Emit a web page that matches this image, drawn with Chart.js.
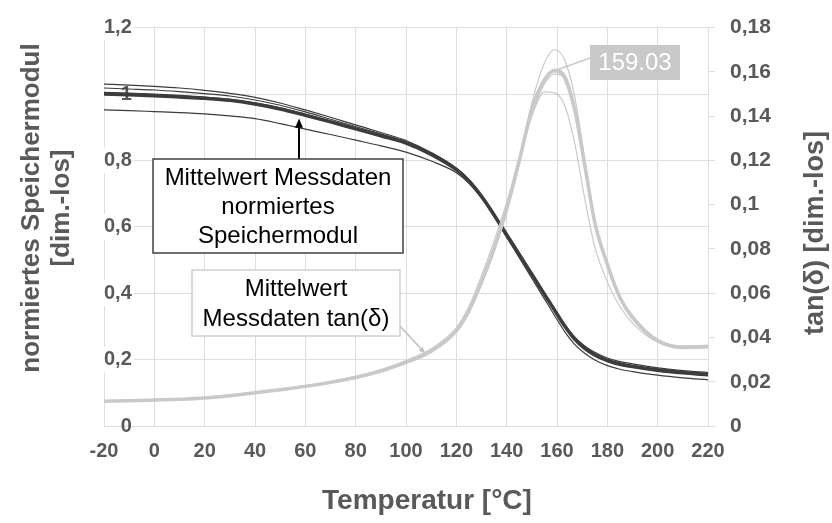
<!DOCTYPE html>
<html lang="de">
<head>
<meta charset="UTF-8">
<title>Normiertes Speichermodul und tan(δ)</title>
<script src="https://cdn.jsdelivr.net/npm/chart.js"></script>
<style>
  html, body { margin: 0; padding: 0; background: #fff; }
</style>
</head>
<body>
<canvas id="dmaChart" width="832" height="523"></canvas>
<script>
// Temperaturstützstellen [°C]
const temps = [-20, -10, 0, 10, 20, 30, 40, 50, 60, 70, 80, 90, 100, 110, 120, 125, 130, 135, 140, 145, 150, 155, 159.03, 163, 167, 171, 175, 180, 185, 190, 200, 210, 220];

// normiertes Speichermodul: Mittelwert und Einzelmessungen
const modMean = [1.000, 0.998, 0.995, 0.991, 0.987, 0.981, 0.970, 0.955, 0.936, 0.916, 0.895, 0.874, 0.852, 0.818, 0.772, 0.738, 0.692, 0.636, 0.576, 0.517, 0.457, 0.397, 0.349, 0.302, 0.262, 0.234, 0.214, 0.197, 0.186, 0.179, 0.168, 0.160, 0.154];
const modRun1 = [1.030, 1.027, 1.023, 1.018, 1.011, 1.002, 0.990, 0.973, 0.952, 0.930, 0.907, 0.884, 0.860, 0.824, 0.777, 0.742, 0.695, 0.639, 0.578, 0.519, 0.459, 0.400, 0.353, 0.307, 0.268, 0.241, 0.222, 0.205, 0.194, 0.187, 0.175, 0.167, 0.161];
const modRun2 = [1.018, 1.015, 1.012, 1.007, 1.001, 0.994, 0.982, 0.966, 0.946, 0.924, 0.902, 0.880, 0.857, 0.822, 0.775, 0.740, 0.694, 0.638, 0.577, 0.518, 0.458, 0.398, 0.351, 0.304, 0.265, 0.238, 0.218, 0.201, 0.190, 0.183, 0.172, 0.164, 0.158];
const modRun3 = [1.005, 1.003, 1.000, 0.996, 0.991, 0.984, 0.973, 0.958, 0.939, 0.919, 0.898, 0.876, 0.854, 0.820, 0.774, 0.739, 0.693, 0.637, 0.576, 0.516, 0.456, 0.396, 0.347, 0.300, 0.260, 0.232, 0.212, 0.195, 0.184, 0.177, 0.166, 0.159, 0.153];
const modRun4 = [0.952, 0.950, 0.947, 0.944, 0.940, 0.934, 0.926, 0.911, 0.894, 0.878, 0.861, 0.844, 0.825, 0.798, 0.763, 0.731, 0.686, 0.630, 0.568, 0.507, 0.445, 0.383, 0.333, 0.285, 0.246, 0.219, 0.199, 0.182, 0.171, 0.164, 0.153, 0.145, 0.139];

// tan(δ): Mittelwert und Einzelmessungen
const tanMean = [0.0112, 0.0114, 0.0117, 0.0121, 0.0127, 0.0137, 0.0150, 0.0164, 0.0179, 0.0197, 0.0219, 0.0248, 0.0287, 0.0338, 0.0430, 0.0520, 0.0650, 0.0800, 0.0980, 0.1200, 0.1430, 0.1565, 0.1605, 0.1575, 0.1430, 0.1180, 0.0920, 0.0730, 0.0580, 0.0490, 0.0385, 0.0355, 0.0358];
const tanRun1 = [0.0110, 0.0112, 0.0115, 0.0119, 0.0125, 0.0135, 0.0148, 0.0162, 0.0177, 0.0195, 0.0217, 0.0246, 0.0285, 0.0336, 0.0428, 0.0515, 0.0645, 0.0795, 0.0975, 0.1205, 0.1460, 0.1640, 0.1700, 0.1655, 0.1490, 0.1210, 0.0935, 0.0735, 0.0585, 0.0492, 0.0388, 0.0358, 0.0362];
const tanRun2 = [0.0114, 0.0116, 0.0119, 0.0123, 0.0129, 0.0140, 0.0153, 0.0167, 0.0182, 0.0200, 0.0222, 0.0251, 0.0291, 0.0341, 0.0432, 0.0520, 0.0648, 0.0795, 0.0970, 0.1185, 0.1420, 0.1565, 0.1612, 0.1590, 0.1450, 0.1200, 0.0935, 0.0740, 0.0588, 0.0495, 0.0390, 0.0360, 0.0362];
const tanRun3 = [0.0113, 0.0115, 0.0118, 0.0122, 0.0128, 0.0139, 0.0152, 0.0166, 0.0182, 0.0201, 0.0224, 0.0255, 0.0296, 0.0349, 0.0445, 0.0540, 0.0680, 0.0835, 0.1010, 0.1210, 0.1400, 0.1510, 0.1505, 0.1450, 0.1280, 0.1030, 0.0810, 0.0650, 0.0540, 0.0465, 0.0378, 0.0352, 0.0354];
const tanRun4 = [0.0111, 0.0113, 0.0116, 0.0120, 0.0126, 0.0136, 0.0149, 0.0163, 0.0178, 0.0196, 0.0218, 0.0247, 0.0286, 0.0335, 0.0425, 0.0512, 0.0640, 0.0790, 0.0965, 0.1180, 0.1405, 0.1545, 0.1590, 0.1570, 0.1440, 0.1190, 0.0930, 0.0738, 0.0590, 0.0500, 0.0392, 0.0362, 0.0365];

// Achsen
const xTicks = { min: -20, max: 220, step: 20 };
const yModTicks = { min: 0, max: 1.2, step: 0.2 };
const yTanTicks = { min: 0, max: 0.18, step: 0.02 };

const peakTemp = 159.03;
const peakTan = tanMean[temps.indexOf(peakTemp)];

const FONT = '"Liberation Sans", Arial, sans-serif';
const DARK = '#3c3c3c';
const LIGHT = '#c9c9c9';
const AXIS_TEXT = '#595959';
const GRID = '#dedede';

Chart.defaults.font.family = FONT;

const pts = arr => arr.map((v, i) => ({ x: temps[i], y: v }));
const comma = (v, d) => String(Math.round(v * d) / d).replace('.', ',');

function line(data, axis, color, width) {
  return {
    data: pts(data), yAxisID: axis,
    borderColor: color, borderWidth: width,
    pointRadius: 0, cubicInterpolationMode: 'monotone', fill: false
  };
}

// Textkästen mit Pfeilen
function drawArrow(ctx, x0, y0, x1, y1, color, width, head) {
  ctx.strokeStyle = color; ctx.fillStyle = color; ctx.lineWidth = width;
  const a = Math.atan2(y1 - y0, x1 - x0);
  const ex = head ? x1 - Math.cos(a) * head * 0.8 : x1;
  const ey = head ? y1 - Math.sin(a) * head * 0.8 : y1;
  ctx.beginPath(); ctx.moveTo(x0, y0); ctx.lineTo(ex, ey); ctx.stroke();
  if (head) {
    ctx.beginPath();
    ctx.moveTo(x1, y1);
    ctx.lineTo(x1 - head * Math.cos(a - 0.4), y1 - head * Math.sin(a - 0.4));
    ctx.lineTo(x1 - head * Math.cos(a + 0.4), y1 - head * Math.sin(a + 0.4));
    ctx.closePath(); ctx.fill();
  }
}

const callouts = {
  id: 'callouts',
  afterDatasetsDraw(chart) {
    const { ctx, scales: { x, y, y1 } } = chart;
    ctx.save();

    // Speichermodul
    drawArrow(ctx, 299, 159, x.getPixelForValue(57.5), y.getPixelForValue(0.926), '#000', 2, 10);
    ctx.fillStyle = '#fff'; ctx.fillRect(153, 159, 250, 94);
    ctx.strokeStyle = '#404040'; ctx.lineWidth = 1.5; ctx.strokeRect(153, 159, 250, 94);
    ctx.fillStyle = '#000'; ctx.font = '24px ' + FONT;
    ctx.textAlign = 'center'; ctx.textBaseline = 'middle';
    ['Mittelwert Messdaten', 'normiertes', 'Speichermodul'].forEach((t, i) => ctx.fillText(t, 278, 178 + i * 29));

    // tan(δ)
    drawArrow(ctx, 400, 326, x.getPixelForValue(107.6), y1.getPixelForValue(0.0328), '#c0c0c0', 1.5, 7);
    ctx.fillStyle = '#fff'; ctx.fillRect(192, 270, 208, 66);
    ctx.strokeStyle = '#d0d0d0'; ctx.lineWidth = 1.5; ctx.strokeRect(192, 270, 208, 66);
    ctx.fillStyle = '#000';
    ['Mittelwert', 'Messdaten tan(δ)'].forEach((t, i) => ctx.fillText(t, 296, 289 + i * 30));

    // Peak-Temperatur
    drawArrow(ctx, 590, 58, x.getPixelForValue(peakTemp), y1.getPixelForValue(peakTan), LIGHT, 1.5, 0);
    ctx.fillStyle = LIGHT; ctx.fillRect(590, 45, 90, 35);
    ctx.fillStyle = '#fff';
    ctx.fillText(peakTemp.toFixed(2), 635, 63);

    ctx.restore();
  }
};

// Achsentitel (beide y-Titel von unten nach oben gelesen)
const axisTitles = {
  id: 'axisTitles',
  afterDraw(chart) {
    const ctx = chart.ctx;
    ctx.save();
    ctx.fillStyle = AXIS_TEXT;
    ctx.textAlign = 'center'; ctx.textBaseline = 'middle';

    ctx.font = 'bold 26px ' + FONT;
    ctx.save(); ctx.translate(32, 208); ctx.rotate(-Math.PI / 2);
    ctx.fillText('normiertes Speichermodul', 0, 0);
    ctx.fillText('[dim.-los]', 0, 30);
    ctx.restore();

    ctx.font = 'bold 27px ' + FONT;
    ctx.save(); ctx.translate(816, 233); ctx.rotate(-Math.PI / 2);
    ctx.fillText('tan(δ) [dim.-los]', 0, 0);
    ctx.restore();

    ctx.font = 'bold 28px ' + FONT;
    ctx.fillText('Temperatur [°C]', 427, 501);
    ctx.restore();
  }
};

new Chart(document.getElementById('dmaChart'), {
  type: 'line',
  data: {
    datasets: [
      line(tanMean, 'y1', LIGHT, 3.5),
      line(tanRun1, 'y1', LIGHT, 1.2),
      line(tanRun2, 'y1', LIGHT, 1.2),
      line(tanRun3, 'y1', LIGHT, 1.2),
      line(tanRun4, 'y1', LIGHT, 1.2),
      line(modMean, 'y', DARK, 3.5),
      line(modRun1, 'y', DARK, 1.2),
      line(modRun2, 'y', DARK, 1.2),
      line(modRun3, 'y', DARK, 1.2),
      line(modRun4, 'y', DARK, 1.2)
    ]
  },
  options: {
    responsive: false,
    animation: false,
    events: [],
    layout: { padding: { top: 25 } },
    plugins: { legend: { display: false }, tooltip: { enabled: false } },
    scales: {
      x: {
        type: 'linear', min: xTicks.min, max: xTicks.max,
        afterFit: s => { s.height = 97; },
        grid: { color: GRID, drawTicks: false },
        border: { color: GRID },
        ticks: { stepSize: xTicks.step, padding: 13, color: AXIS_TEXT, font: { size: 20, weight: 'bold' } }
      },
      y: {
        position: 'left', min: yModTicks.min, max: yModTicks.max,
        afterFit: s => { s.width = 104; },
        grid: { color: GRID, drawTicks: false },
        border: { color: GRID },
        ticks: {
          stepSize: yModTicks.step, mirror: true, crossAlign: 'far', padding: 0,
          color: AXIS_TEXT, font: { size: 20, weight: 'bold' },
          showLabelBackdrop: true,
          backdropColor: c => c.tick && c.tick.value === 0 ? 'rgba(0,0,0,0)' : '#fff',
          backdropPadding: { left: 16, right: 2, top: 1, bottom: 1 },
          callback: v => comma(v, 100)
        }
      },
      y1: {
        position: 'right', min: yTanTicks.min, max: yTanTicks.max,
        afterFit: s => { s.width = 124; },
        grid: { drawOnChartArea: false, color: GRID, tickLength: 7 },
        border: { color: GRID },
        ticks: {
          stepSize: yTanTicks.step, padding: 15,
          color: AXIS_TEXT, font: { size: 21, weight: 'bold' },
          callback: v => comma(v, 1000)
        }
      }
    }
  },
  plugins: [callouts, axisTitles]
});
</script>
</body>
</html>
